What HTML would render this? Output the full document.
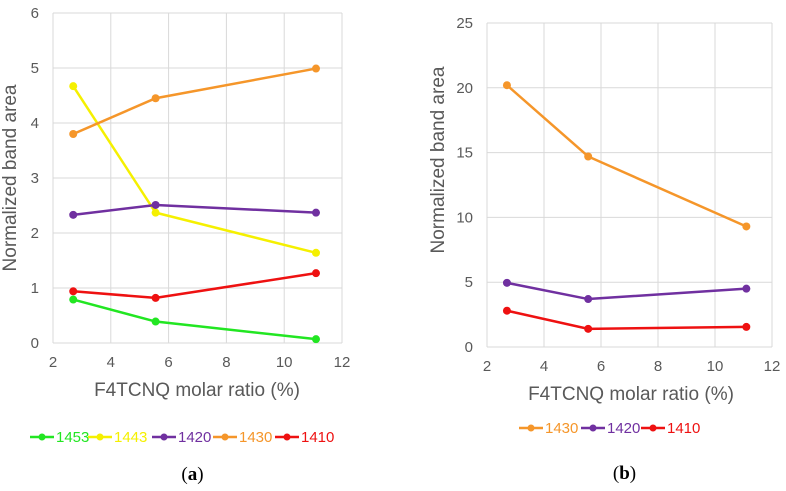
<!DOCTYPE html>
<html><head><meta charset="utf-8"><style>
body{margin:0;background:#fff;}
svg{display:block;font-family:"Liberation Sans",sans-serif;}
</style></head><body>
<svg id="chart" width="786" height="491" viewBox="0 0 786 491"></svg>
<script>
const xValues = [2.7, 5.55, 11.1];
const xTicks = [2, 4, 6, 8, 10, 12];
const yTicksA = [0, 1, 2, 3, 4, 5, 6];
const yTicksB = [0, 5, 10, 15, 20, 25];
const seriesNamesA = ["1453", "1443", "1420", "1430", "1410"];
const s1453a = [0.79, 0.39, 0.07];
const s1443a = [4.67, 2.37, 1.64];
const s1420a = [2.33, 2.51, 2.37];
const s1430a = [3.80, 4.45, 4.99];
const s1410a = [0.94, 0.82, 1.27];
const seriesNamesB = ["1430", "1420", "1410"];
const s1430b = [20.2, 14.7, 9.3];
const s1420b = [4.95, 3.7, 4.5];
const s1410b = [2.8, 1.4, 1.55];

const NS = "http://www.w3.org/2000/svg";
const svg = document.getElementById("chart");
function mk(tag, attrs, parent, text){
  const e = document.createElementNS(NS, tag);
  for (const k in attrs) e.setAttribute(k, attrs[k]);
  if (text !== undefined) e.textContent = text;
  (parent || svg).appendChild(e);
  return e;
}
const colors = {"1453":"#22e622","1443":"#f5f000","1420":"#7030a0","1430":"#f5962a","1410":"#ee1111"};

function panel(id, px0, px1, py0, py1, yMax, yTicks, names, data, yTitleX, yTitleY, xTitleX, xTitleY, legend, label, labelY){
  const g = mk("g", {});
  
  
  const xs = v => px0 + (v - 2) / 10 * (px1 - px0);
  const ys = v => py0 - v / yMax * (py0 - py1);
  xTicks.forEach(t => {
    const l = mk("line", {x1: xs(t), x2: xs(t), y1: py1, y2: py0, stroke: "#d9d9d9", "stroke-width": 1}, g);
    
    
    const tx = mk("text", {x: xs(t), y: py0 + 24, "text-anchor": "middle", "font-size": 15, fill: "#595959"}, g, t);
    
    
  });
  yTicks.forEach(t => {
    const l = mk("line", {x1: px0, x2: px1, y1: ys(t), y2: ys(t), stroke: "#d9d9d9", "stroke-width": 1}, g);
    
    
    const tx = mk("text", {x: px0 - 14, y: ys(t) + 5, "text-anchor": "end", "font-size": 15, fill: "#595959"}, g, t);
    
    
  });
  const yt = mk("text", {x: yTitleX, y: yTitleY, "text-anchor": "middle", "font-size": 19, fill: "#595959", transform: `rotate(-90 ${yTitleX} ${yTitleY})`}, g, "Normalized band area");
  
  
  const xt = mk("text", {x: xTitleX, y: xTitleY, "text-anchor": "middle", "font-size": 19, fill: "#595959"}, g, "F4TCNQ molar ratio (%)");
  
  
  names.forEach((n, i) => {
    const vals = data[i];
    const pts = vals.map((v, j) => xs(xValues[j]) + "," + ys(v)).join(" ");
    const pl = mk("polyline", {points: pts, fill: "none", stroke: colors[n], "stroke-width": 2.5}, g);
    
    
    vals.forEach((v, j) => {
      const c = mk("circle", {cx: xs(xValues[j]), cy: ys(v), r: 4, fill: colors[n]}, g);
      
      
    });
    const [lx, ly] = legend[i];
    const le = mk("g", {}, g);
    
    
    mk("line", {x1: lx, x2: lx + 24, y1: ly, y2: ly, stroke: colors[n], "stroke-width": 2.5}, le);
    mk("circle", {cx: lx + 12, cy: ly, r: 3.5, fill: colors[n]}, le);
    mk("text", {x: lx + 26, y: ly + 5, "font-size": 15, fill: colors[n]}, le, n);
  });
  const lb = mk("text", {x: (px0 + px1) / 2 - 5, y: labelY, "text-anchor": "middle", "font-size": 19, fill: "#000", "font-family": "Liberation Serif, serif"}, g);
  
  
  mk("tspan", {}, lb, "(");
  mk("tspan", {"font-weight": "bold"}, lb, label);
  mk("tspan", {}, lb, ")");
}

panel("a", 53, 342, 343, 13, 6, yTicksA, seriesNamesA, [s1453a, s1443a, s1420a, s1430a, s1410a],
  16, 178, 197, 396, [[30,437],[88,437],[152,437],[213,437],[275,437]], "a", 480);
panel("b", 487, 772, 347, 23, 25, yTicksB, seriesNamesB, [s1430b, s1420b, s1410b],
  444, 160, 631, 400, [[519,428],[581,428],[641,428]], "b", 479);
</script>
</body></html>
